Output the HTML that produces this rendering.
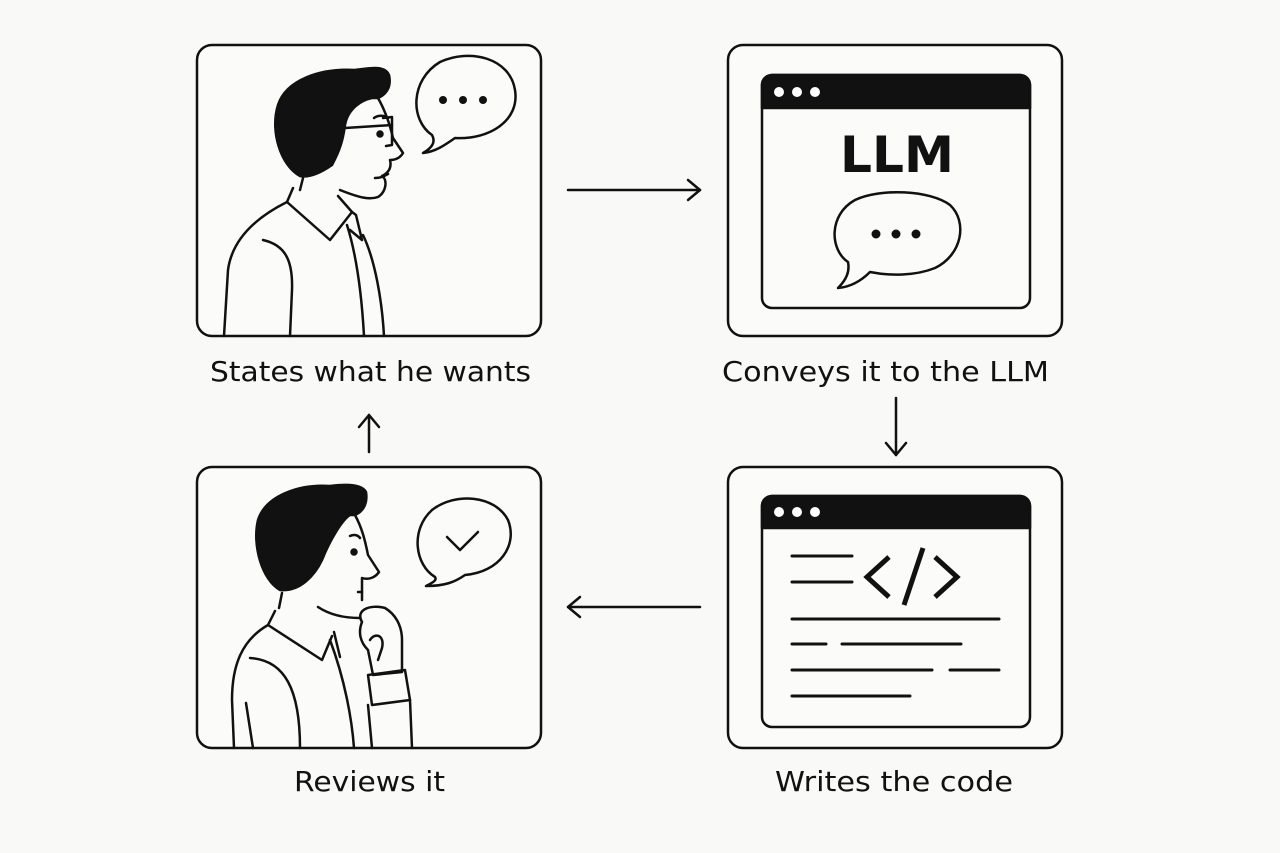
<!DOCTYPE html>
<html><head><meta charset="utf-8"><style>
html,body{margin:0;padding:0;background:#f9f9f7;}
svg{display:block}
text{font-family:"DejaVu Sans","Liberation Sans",sans-serif;fill:#111}
</style></head><body>
<svg width="1280" height="853" viewBox="0 0 1280 853" xmlns="http://www.w3.org/2000/svg">
<rect width="1280" height="853" fill="#f9f9f7"/>
<g fill="none" stroke="#111" stroke-width="2.5" stroke-linecap="round" stroke-linejoin="round">
<rect x="197" y="45" width="344" height="291" rx="15" fill="#fbfbf9"/>
<rect x="728" y="45" width="334" height="291" rx="15" fill="#fbfbf9"/>
<rect x="197" y="467" width="344" height="281" rx="15" fill="#fbfbf9"/>
<rect x="728" y="467" width="334" height="281" rx="15" fill="#fbfbf9"/>
<line x1="568" y1="190" x2="700" y2="190"/><polyline points="688,180 700,190 688,200"/>
<line x1="896" y1="398" x2="896" y2="455"/><polyline points="886,443 896,455 906,443"/>
<line x1="700" y1="607" x2="568" y2="607"/><polyline points="580,597 568,607 580,617"/>
<line x1="369" y1="452" x2="369" y2="415"/><polyline points="359,427 369,415 379,427"/>

<path d="M300,176 C280,165 270,130 278,105 C286,80 320,68 355,70 C370,68 385,65 389,75 C392,88 385,95 378,98 L372,98 C362,100 348,108 345,125 C343,140 340,150 332,165 C322,172 310,178 300,176 Z" fill="#111"/>
<path d="M378,98 C386,112 390,125 393,138 L403,153 C400,158 395,160 390,160 C392,168 388,173 382,176 C388,180 386,192 378,197 C370,200 360,198 340,190"/>
<path d="M320,155 C310,150 308,135 318,132 C326,130 330,140 330,145"/>
<path d="M345,128 L392,125"/><path d="M383,118 L392,117 L392,145 L386,146"/>
<circle cx="380" cy="134" r="2.5" fill="#111"/>
<path d="M374,118 C378,115 384,115 388,118"/>
<path d="M375,178 C380,178 385,176 388,174"/>
<line x1="303" y1="178" x2="300" y2="190"/>
<path d="M293,188 L287,202 L330,240 L352,212 L338,196"/>
<path d="M352,212 L356,215 L362,240 L350,230"/>
<path d="M287,202 C255,218 232,240 228,270 L224,336"/>
<path d="M263,240 C285,245 293,260 292,290 L290,336"/>
<path d="M347,225 C358,260 362,300 364,336"/>
<path d="M363,235 C375,260 382,300 384,336"/>
<path d="M432,135 C410,120 410,80 440,62 C470,48 510,58 515,90 C520,120 490,140 455,138 C445,145 435,152 423,153 C432,148 436,142 432,135 Z" fill="#fbfbf9"/>
</g>
<g fill="#111">
<circle cx="443" cy="100" r="4"/><circle cx="463" cy="100" r="4"/><circle cx="483" cy="100" r="4"/>
</g>

<g stroke="#111" stroke-width="2.5" fill="none" stroke-linecap="round" stroke-linejoin="round">
<rect x="762" y="75" width="268" height="233" rx="10" fill="#fbfbf9"/>
<path d="M772,75 H1020 A10,10 0 0 1 1030,85 V108 H762 V85 A10,10 0 0 1 772,75 Z" fill="#111"/>
<path d="M848,262 C830,250 828,215 855,200 C880,188 930,190 950,205 C968,222 962,255 935,268 C915,276 890,276 870,272 C860,282 850,287 838,288 C846,280 850,272 848,262 Z" fill="#fbfbf9"/>
</g>
<g fill="#fff"><circle cx="779" cy="92" r="5"/><circle cx="797" cy="92" r="5"/><circle cx="815" cy="92" r="5"/></g>
<text x="897" y="172" text-anchor="middle" font-size="50" font-weight="bold" textLength="114" lengthAdjust="spacingAndGlyphs">LLM</text>
<g fill="#111"><circle cx="876" cy="234" r="4.5"/><circle cx="896" cy="234" r="4.5"/><circle cx="916" cy="234" r="4.5"/></g>

<g stroke="#111" stroke-width="2.5" fill="none" stroke-linecap="round" stroke-linejoin="round">
<rect x="762" y="496" width="268" height="231" rx="10" fill="#fbfbf9"/>
<path d="M772,496 H1020 A10,10 0 0 1 1030,506 V528 H762 V506 A10,10 0 0 1 772,496 Z" fill="#111"/>
</g>
<g fill="#fff"><circle cx="779" cy="512" r="5"/><circle cx="797" cy="512" r="5"/><circle cx="815" cy="512" r="5"/></g>
<g stroke="#111" stroke-width="3" fill="none" stroke-linecap="round">
<line x1="792" y1="556" x2="852" y2="556"/><line x1="792" y1="582" x2="852" y2="582"/>
<line x1="792" y1="619" x2="999" y2="619"/>
<line x1="792" y1="644" x2="826" y2="644"/><line x1="842" y1="644" x2="961" y2="644"/>
<line x1="792" y1="670" x2="932" y2="670"/><line x1="950" y1="670" x2="999" y2="670"/>
<line x1="792" y1="696" x2="910" y2="696"/>
</g>
<g stroke="#111" stroke-width="5" fill="none">
<polyline points="889,557 867,577 889,597"/><line x1="923" y1="548" x2="904" y2="605"/><polyline points="935,557 957,577 935,597"/>
</g>

<g fill="none" stroke="#111" stroke-width="2.5" stroke-linecap="round" stroke-linejoin="round">
<path d="M280,590 C262,580 252,545 258,520 C266,495 300,484 330,486 C345,484 362,484 366,492 C368,505 362,512 355,515 L350,515 C342,520 330,540 322,560 C315,575 300,592 280,590 Z" fill="#111"/>
<path d="M355,515 C362,528 365,540 368,555 L379,572 C375,578 368,580 362,578 L362,600"/>
<path d="M305,578 C297,572 298,558 307,556 C314,556 316,565 314,572"/>
<path d="M350,536 C354,534 358,535 360,538"/>
<circle cx="354" cy="552" r="2.5" fill="#111"/>
<path d="M358,592 L362,592"/>
<path d="M318,607 C330,615 345,618 360,618"/>
<line x1="282" y1="593" x2="279" y2="608"/>
<path d="M275,611 L268,625 L322,660 L332,636"/>
<path d="M268,625 C242,640 232,665 232,700 L234,748"/>
<path d="M250,658 C285,660 300,690 300,748"/>
<path d="M246,703 L253,748"/>
<path d="M330,640 C345,680 352,720 354,748"/>
<path d="M334,632 L340,657"/>
<path d="M362,622 C355,610 370,604 385,608 C395,614 402,625 402,640 L402,672 L373,675 L368,650 C360,642 358,632 362,622 Z" fill="#fbfbf9"/>
<path d="M370,640 C375,632 385,635 382,648 L378,660"/>
<path d="M368,675 L405,670 L410,700 L372,705 Z"/>
<path d="M368,705 L372,748"/><path d="M410,700 L412,748"/>
<path d="M435,577 C415,565 410,530 432,510 C455,492 495,495 508,520 C518,545 500,572 465,575 C455,582 445,586 426,586 C434,582 437,580 435,577 Z" fill="#fbfbf9"/>
<polyline points="447,537 460,550 478,532"/>
</g>

<text x="210" y="381" font-size="28" textLength="321" lengthAdjust="spacingAndGlyphs">States what he wants</text>
<text x="722" y="381" font-size="28" textLength="327" lengthAdjust="spacingAndGlyphs">Conveys it to the LLM</text>
<text x="294" y="791" font-size="28" textLength="151" lengthAdjust="spacingAndGlyphs">Reviews it</text>
<text x="775" y="791" font-size="28" textLength="238" lengthAdjust="spacingAndGlyphs">Writes the code</text>
</svg>
</body></html>
